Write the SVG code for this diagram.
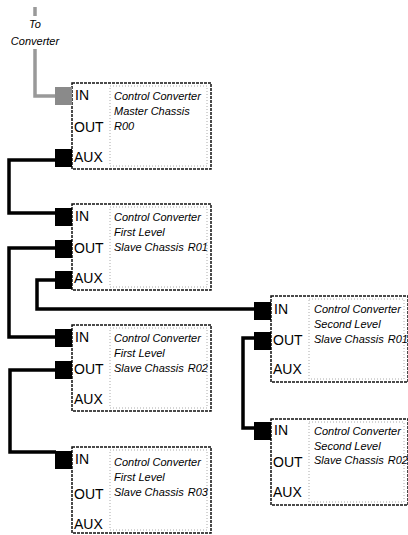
<svg xmlns="http://www.w3.org/2000/svg" width="408" height="535" viewBox="0 0 408 535">
<style>
.box{fill:#fff;stroke:#111;stroke-width:1.5;stroke-dasharray:3 1}
.inner{fill:none;stroke:#aaa;stroke-width:1;stroke-dasharray:1 2}
.port{font-family:"Liberation Sans",Arial,sans-serif;font-size:14px;fill:#000}
.lbl{font-family:"Liberation Sans",Arial,sans-serif;font-size:11px;font-style:italic;fill:#000}
.blk{fill:#000}
.gblk{fill:#8a8a8a}
.wire{fill:none;stroke:#000;stroke-width:3.5}
.gwire{fill:none;stroke:#999;stroke-width:3.5}
</style>
<rect width="408" height="535" fill="#fff"/>
<g id="to-converter">
<path class="gwire" d="M35 7V16"/>
<text class="lbl" x="35" y="28" text-anchor="middle">To</text>
<text class="lbl" x="35" y="45" text-anchor="middle">Converter</text>
</g>
<g id="connectors">
<path class="gwire" d="M35 49V96H56"/>
<path class="wire" d="M56 160H9V213H56"/>
<path class="wire" d="M56 248H9V337H56"/>
<path class="wire" d="M56 280H37V309H256"/>
<path class="wire" d="M256 338H243V428H256"/>
<path class="wire" d="M56 370H10V452H56"/>
</g>
<g id="master-r00">
<rect class="box" x="72" y="83" width="139" height="86"/>
<rect class="inner" x="110" y="86" width="97" height="80"/>
<rect class="gblk" x="55" y="87" width="17" height="18"/>
<rect class="blk" x="55" y="149" width="17" height="18"/>
<text class="port" x="75" y="100">IN</text>
<text class="port" x="74" y="132">OUT</text>
<text class="port" x="74" y="162">AUX</text>
<text class="lbl" x="114" y="100">Control Converter</text>
<text class="lbl" x="114" y="115">Master Chassis</text>
<text class="lbl" x="114" y="130">R00</text>
</g>
<g id="first-r01">
<rect class="box" x="72" y="204" width="139" height="86"/>
<rect class="inner" x="110" y="207" width="97" height="80"/>
<rect class="blk" x="55" y="208" width="17" height="18"/>
<rect class="blk" x="55" y="240" width="17" height="18"/>
<rect class="blk" x="55" y="271" width="17" height="18"/>
<text class="port" x="75" y="221">IN</text>
<text class="port" x="74" y="253">OUT</text>
<text class="port" x="74" y="283">AUX</text>
<text class="lbl" x="114" y="221">Control Converter</text>
<text class="lbl" x="114" y="236">First Level</text>
<text class="lbl" x="114" y="251">Slave Chassis<tspan dx="4">R01</tspan></text>
</g>
<g id="first-r02">
<rect class="box" x="72" y="325" width="139" height="86"/>
<rect class="inner" x="110" y="328" width="97" height="80"/>
<rect class="blk" x="55" y="329" width="17" height="18"/>
<rect class="blk" x="55" y="361" width="17" height="18"/>
<text class="port" x="75" y="342">IN</text>
<text class="port" x="74" y="374">OUT</text>
<text class="port" x="74" y="404">AUX</text>
<text class="lbl" x="114" y="342">Control Converter</text>
<text class="lbl" x="114" y="357">First Level</text>
<text class="lbl" x="114" y="372">Slave Chassis<tspan dx="4">R02</tspan></text>
</g>
<g id="first-r03">
<rect class="box" x="72" y="447" width="139" height="86"/>
<rect class="inner" x="110" y="450" width="97" height="80"/>
<rect class="blk" x="55" y="451" width="17" height="18"/>
<text class="port" x="75" y="464">IN</text>
<text class="port" x="74" y="499">OUT</text>
<text class="port" x="74" y="529">AUX</text>
<text class="lbl" x="114" y="466">Control Converter</text>
<text class="lbl" x="114" y="481">First Level</text>
<text class="lbl" x="114" y="496">Slave Chassis<tspan dx="4">R03</tspan></text>
</g>
<g id="second-r01">
<rect class="box" x="271" y="296" width="137" height="86"/>
<rect class="inner" x="309" y="299" width="95" height="80"/>
<rect class="blk" x="254" y="302" width="17" height="18"/>
<rect class="blk" x="254" y="332" width="17" height="18"/>
<text class="port" x="274" y="314">IN</text>
<text class="port" x="273" y="345">OUT</text>
<text class="port" x="273" y="374">AUX</text>
<text class="lbl" x="314" y="313">Control Converter</text>
<text class="lbl" x="314" y="328">Second Level</text>
<text class="lbl" x="314" y="343">Slave Chassis<tspan dx="4">R01</tspan></text>
</g>
<g id="second-r02">
<rect class="box" x="271" y="419" width="137" height="86"/>
<rect class="inner" x="309" y="422" width="95" height="80"/>
<rect class="blk" x="254" y="422" width="17" height="18"/>
<text class="port" x="274" y="435">IN</text>
<text class="port" x="273" y="467">OUT</text>
<text class="port" x="273" y="497">AUX</text>
<text class="lbl" x="314" y="435">Control Converter</text>
<text class="lbl" x="314" y="450">Second Level</text>
<text class="lbl" x="314" y="464">Slave Chassis<tspan dx="4">R02</tspan></text>
</g>
</svg>
